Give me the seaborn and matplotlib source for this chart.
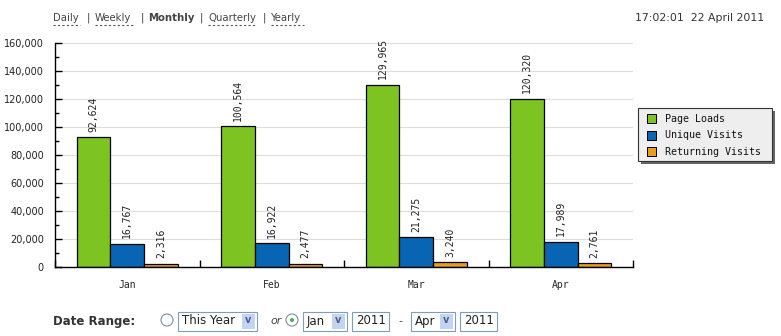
import matplotlib
matplotlib.use("Agg")
import matplotlib.pyplot as plt
import matplotlib.patches as mpatches
from matplotlib.lines import Line2D
from matplotlib.ticker import MultipleLocator, FuncFormatter
import seaborn as sns
import pandas as pd

months = ["Jan", "Feb", "Mar", "Apr"]
series = ["Page Loads", "Unique Visits", "Returning Visits"]
page_loads = [92624, 100564, 129965, 120320]
unique_visits = [16767, 16922, 21275, 17989]
returning_visits = [2316, 2477, 3240, 2761]
colors = ["#7DC321", "#0765B3", "#E89E1E"]

rows = []
for s, vals in zip(series, [page_loads, unique_visits, returning_visits]):
    for m, v in zip(months, vals):
        rows.append({"Month": m, "Series": s, "Value": v})
df = pd.DataFrame(rows)

sns.set_theme(style="white")
W, H = 781, 336
fig = plt.figure(figsize=(W / 100, H / 100), dpi=100)
fig.patch.set_facecolor("white")

def fx(x):
    return x / W

def fy(y):
    return 1 - y / H

ax = fig.add_axes([fx(55), fy(267), fx(633) - fx(55), fy(43) - fy(267)])
sns.barplot(data=df, x="Month", y="Value", hue="Series", palette=colors,
            saturation=1, width=0.7, edgecolor="black", linewidth=0.9, ax=ax,
            legend=True)

ax.set_xlim(-0.5, 3.5)
ax.set_ylim(0, 160000)
ax.set_xlabel("")
ax.set_ylabel("")
ax.yaxis.set_major_locator(MultipleLocator(20000))
ax.yaxis.set_minor_locator(MultipleLocator(10000))
ax.yaxis.set_major_formatter(FuncFormatter(lambda v, p: f"{int(v):,}"))
ax.grid(axis="y", which="major", color="#dddddd", linewidth=0.8)
ax.set_axisbelow(True)
for s in ["top", "right"]:
    ax.spines[s].set_visible(False)
for s in ["left", "bottom"]:
    ax.spines[s].set_color("black")
    ax.spines[s].set_linewidth(1.0)

ax.tick_params(axis="y", which="major", direction="in", length=5, width=1,
               color="black", labelsize=7, labelcolor="#222222", pad=8, left=True)
ax.tick_params(axis="y", which="minor", direction="in", length=3, width=1,
               color="black", left=True)
ax.set_xticks([-0.5, 0.5, 1.5, 2.5, 3.5])
ax.set_xticklabels([])
ax.set_xticks(range(len(months)), minor=True)
ax.set_xticklabels(months, minor=True, family="DejaVu Sans Mono", fontsize=7)
ax.tick_params(axis="x", which="major", direction="in", length=5, width=1,
               color="black", bottom=True)
ax.tick_params(axis="x", which="minor", length=0, pad=9)

for cont in ax.containers:
    ax.bar_label(cont, labels=[f"{int(v):,}" for v in cont.datavalues],
                 rotation=90, padding=4, fontsize=7,
                 family="DejaVu Sans Mono", color="#222222")

# legend
ax.get_legend().remove()
lx0, lx1, ly0, ly1 = 638, 772, 108, 161
shadow = mpatches.Rectangle((fx(lx0 + 3), fy(ly1 + 3)), fx(lx1 - lx0), fy(ly0) - fy(ly1),
                            transform=fig.transFigure, facecolor="#666666",
                            edgecolor="none", zorder=1)
leg_box = mpatches.Rectangle((fx(lx0), fy(ly1)), fx(lx1 - lx0), fy(ly0) - fy(ly1),
                             transform=fig.transFigure, facecolor="#eeeeee",
                             edgecolor="#333333", linewidth=0.8, zorder=2)
fig.add_artist(shadow)
fig.add_artist(leg_box)
for i, (lab, c) in enumerate(zip(series, colors)):
    y = 118.5 + i * 16.5
    fig.add_artist(mpatches.Rectangle((fx(647), fy(y + 4.5)), fx(9), fy(y - 4.5) - fy(y + 4.5),
                                      transform=fig.transFigure, facecolor=c,
                                      edgecolor="black", linewidth=0.7, zorder=3))
    fig.text(fx(665), fy(y), lab, family="DejaVu Sans Mono", fontsize=7.2,
             va="center", ha="left", color="#111111", zorder=3)

# top navigation
nav = [("Daily", 53, False), ("|", 87, False), ("Weekly", 95, False), ("|", 141, False),
       ("Monthly", 148, True), ("|", 200, False), ("Quarterly", 208, False),
       ("|", 263, False), ("Yearly", 271, False)]
for txt, x, bold in nav:
    fig.text(fx(x), fy(18), txt, fontsize=7.3, family="DejaVu Sans",
             fontweight="bold" if bold else "normal", color="#444444",
             va="center", ha="left")
underlines = [(53, 80), (95, 135), (208, 256), (271, 304)]
for x0, x1 in underlines:
    fig.add_artist(Line2D([fx(x0), fx(x1)], [fy(25), fy(25)], transform=fig.transFigure,
                          color="#555555", linewidth=0.8, linestyle=(0, (2, 2))))
fig.text(fx(764), fy(18), "17:02:01  22 April 2011", fontsize=7.8, color="#333333",
         va="center", ha="right")

# bottom date range controls
fig.text(fx(53), fy(321), "Date Range:", fontsize=8.5, fontweight="bold",
         color="#333333", va="center", ha="left")

def radio(x, checked):
    fig.add_artist(mpatches.Ellipse((fx(x), fy(320)), 12 / W, 12 / H,
                                    transform=fig.transFigure, facecolor="white",
                                    edgecolor="#7a8fa6", linewidth=0.8))
    if checked:
        fig.add_artist(mpatches.Ellipse((fx(x), fy(320)), 4 / W, 4 / H,
                                        transform=fig.transFigure,
                                        facecolor="#4caf50", edgecolor="none"))

def box(x0, x1, text, dropdown):
    fig.add_artist(mpatches.Rectangle((fx(x0), fy(331)), fx(x1 - x0), fy(312) - fy(331),
                                      transform=fig.transFigure, facecolor="white",
                                      edgecolor="#7f9db9", linewidth=0.8))
    if dropdown:
        fig.add_artist(mpatches.Rectangle((fx(x1 - 15), fy(329)), fx(13), fy(314) - fy(329),
                                          transform=fig.transFigure, facecolor="#c3d3f5",
                                          edgecolor="none"))
        fig.text(fx(x1 - 8.5), fy(320), "v", fontsize=7, fontweight="bold",
                 color="#4d6185", ha="center", va="center")
    fig.text(fx(x0 + 4), fy(321), text, fontsize=8.5, color="#222222",
             ha="left", va="center")

radio(167, False)
box(178, 257, "This Year", True)
fig.text(fx(270), fy(321), "or", fontsize=8, style="italic", color="#444444", va="center")
radio(292, True)
box(303, 347, "Jan", True)
box(352, 389, "2011", False)
fig.text(fx(400), fy(321), "-", fontsize=8, color="#444444", va="center", ha="center")
box(411, 455, "Apr", True)
box(460, 497, "2011", False)

fig.savefig("out.png", dpi=100, facecolor="white")
